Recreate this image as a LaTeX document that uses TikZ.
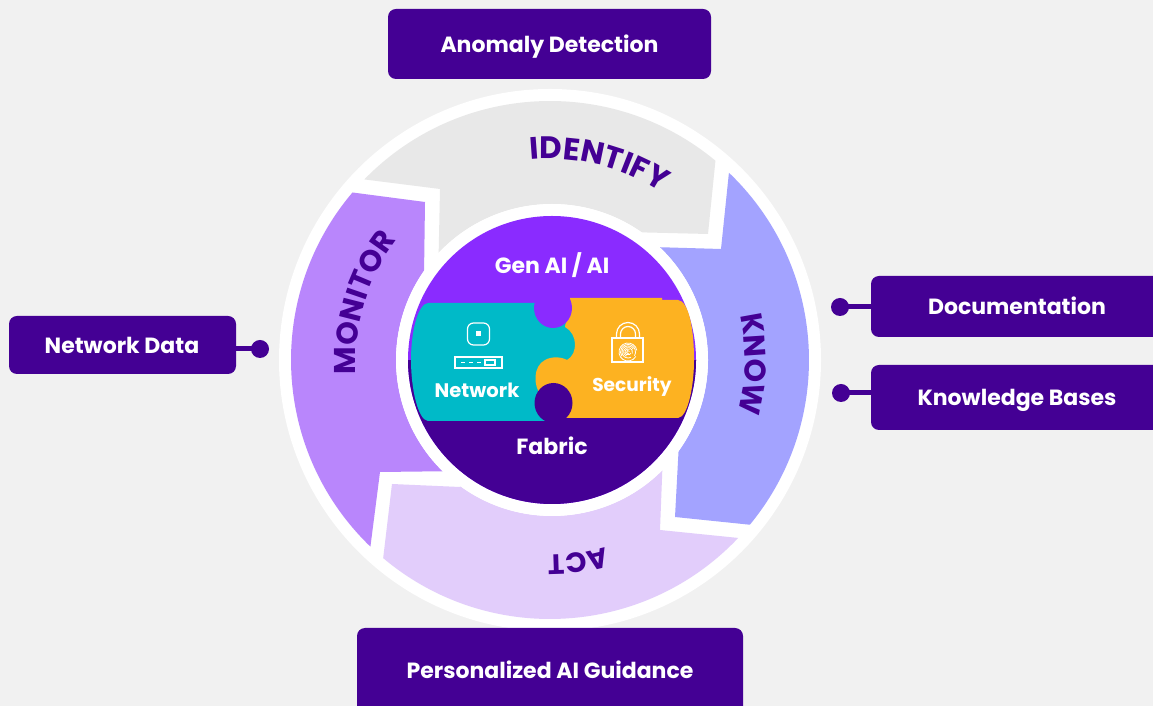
\documentclass[tikz,border=0pt]{standalone}
\usepackage{fontspec}
\setmainfont{Poppins}
\usetikzlibrary{calc,decorations.text}
\definecolor{bgc}{HTML}{F1F1F1}
\definecolor{ink}{HTML}{440094}
\definecolor{violet}{HTML}{8A2BFF}
\definecolor{teal}{HTML}{00BAC8}
\definecolor{amber}{HTML}{FDB221}
\definecolor{cgrey}{HTML}{E8E8E8}
\definecolor{cblue}{HTML}{A3A3FF}
\definecolor{clilac}{HTML}{E2CDFB}
\definecolor{cmauve}{HTML}{B986FC}
\tikzset{
  callout/.style={fill=ink,rounded corners=8pt},
  calltext/.style={text=white,font=\bfseries\fontsize{22}{26}\selectfont,inner sep=0pt},
  hubtext/.style={text=white,font=\bfseries\fontsize{22}{26}\selectfont,inner sep=0pt},
  nettext/.style={text=white,font=\bfseries\fontsize{19.6}{24}\selectfont,inner sep=0pt},
  sectext/.style={text=white,font=\bfseries\fontsize{18.6}{24}\selectfont,inner sep=0pt},
  stalk/.style={draw=ink,line width=5pt},
  iconline/.style={draw=white,line width=1.2pt},
  printline/.style={draw=white,line width=0.8pt},
  curved/.style 2 args={decorate,decoration={text along path,raise=0pt,text align=center,
     text={|\color{ink}\bfseries\fontsize{#2}{#2}\selectfont|#1}}}
}
\begin{document}
\begin{tikzpicture}[x=1pt,y=1pt]
\useasboundingbox (0,0) rectangle (1153,706);
\fill[bgc] (0,0) rectangle (1153,706);
\coordinate (C) at (550,346);
\coordinate (H) at (552,346);
% white discs
\fill[white] (C) circle[radius=271];
% IDENTIFY
\fill[cgrey] ($(C)+(50.3:259)$) arc[start angle=50.3,end angle=135.8,radius=259]
  -- (440,517) -- ($(H)+(136.6:156)$) arc[start angle=136.6,end angle=54.9,radius=156]
  -- (708,472) -- cycle;
% KNOW
\fill[cblue] ($(C)+(46.3:259)$) arc[start angle=46.3,end angle=-39.5,radius=259]
  -- (675,189) -- ($(H)+(-35.8:156)$) arc[start angle=-35.8,end angle=46.3,radius=156]
  -- (721,457) -- cycle;
% ACT
\fill[clilac] ($(C)+(-43.4:259)$) arc[start angle=-43.4,end angle=-130.1,radius=259]
  -- (392,222) -- (460,219) -- ($(H)+(-125.9:156)$) arc[start angle=-125.9,end angle=-45,radius=156]
  -- (660,176) -- cycle;
% MONITOR
\fill[cmauve] ($(C)+(226.1:259)$) arc[start angle=226.1,end angle=139.7,radius=259]
  -- (425,504) -- ($(H)+(145.1:156)$) arc[start angle=145.1,end angle=225.5,radius=156]
  -- (380,234) -- cycle;
% curved words
\path[curved={IDENTIFY}{31}] ($(C)+(109:201)$) arc[start angle=109,end angle=43,radius=201];
\path[curved={KNOW}{30}] ($(C)+(28.8:195)$) arc[start angle=28.8,end angle=-31.2,radius=195];
\path[curved={ACT}{28}] ($(C)+(-49:195)$) arc[start angle=-49,end angle=-115,radius=195];
\path[curved={MONITOR}{30}] ($(C)+(208:194)$) arc[start angle=208,end angle=118,radius=194];
% hub
\fill[white] (H) circle[radius=156];
\fill[violet] (H) circle[radius=144];
\begin{scope}
  \clip (H) circle[radius=144];
  \fill[ink] (400,346) rectangle (700,200);
\end{scope}
% puzzle
\fill[teal] (428,403) .. controls (418,402) and (411,375) .. (411,346)
   .. controls (411,317) and (418,286) .. (428,285) -- (553,285) -- (553,300) -- (576,300) -- (576,403) -- cycle;
\fill[amber] (570,408) -- (662,408) -- (662,406) -- (678,406)
   .. controls (688,405) and (694,380) .. (694,346)
   .. controls (694,320) and (688,289) .. (678,288)
   -- (560,288) -- (541,311) .. controls (533,320) and (533,340) .. (545,346)
   .. controls (552,350) and (562,349) .. (567,346)
   .. controls (578,352) and (578,372) .. (565,379) -- cycle;
\fill[violet] (553,398) ellipse[x radius=19,y radius=20];
\fill[ink] (553.5,303) ellipse[x radius=19,y radius=20];
% network icons
\draw[iconline,rounded corners=6pt] (467.5,361) rectangle (489.5,383);
\fill[white] (476,369.5) rectangle (481,374.5);
\draw[iconline] (455,338) rectangle (502,349);
\draw[iconline] (461,343.5) -- (465,343.5) (469,343.5) -- (473,343.5) (477,343.5) -- (481,343.5);
\draw[iconline] (485,341) rectangle (495,346);
% lock icon
\draw[iconline] (612,344) rectangle (643,368);
\draw[iconline] (616.5,368) -- (616.5,372) arc[start angle=180,end angle=0,radius=11.5] -- (639.5,368);
\draw[iconline] (620.5,368) -- (620.5,372) arc[start angle=180,end angle=0,radius=7.5] -- (635.5,368);
\foreach \r/\a/\b in {1.5/20/300,3/60/340,4.5/-20/250,6/30/300,7.5/-30/215,9/10/330}{
  \draw[printline] ($(628,354)+(\a:\r)$) arc[start angle=\a,end angle=\b,radius=\r];
}
% labels
\node[hubtext] (gen) at (552,441) {Gen AI / AI};
\node[hubtext] (fab) at (552,260.5) {Fabric};
\node[nettext] (net) at (477,316) {Network};
\node[sectext] (sec) at (632,319) {Security};
% callouts
\fill[callout] (388,627) rectangle (711,697); \node[calltext] (a) at (549.5,659.5) {Anomaly Detection};
\fill[callout] (357,-20) rectangle (743,78); \node[calltext] (p) at (550,36) {Personalized AI Guidance};
\fill[callout] (871,369) rectangle (1180,430); \node[calltext] (d) at (1017,400) {Documentation};
\fill[callout] (871,276) rectangle (1180,341); \node[calltext] (k) at (1017,306) {Knowledge Bases};
\fill[callout] (9,332) rectangle (236,390); \node[calltext] (n) at (122,361) {Network Data};
\coordinate (d1) at (840,399); \coordinate (d2) at (841,313); \coordinate (d3) at (260,357);
\draw[stalk] (d1) -- (871,399); \fill[ink] (d1) circle[radius=9];
\draw[stalk] (d2) -- (871,313); \fill[ink] (d2) circle[radius=9];
\draw[stalk] (d3) -- (236,357); \fill[ink] (d3) circle[radius=9];
\end{tikzpicture}
\end{document}
